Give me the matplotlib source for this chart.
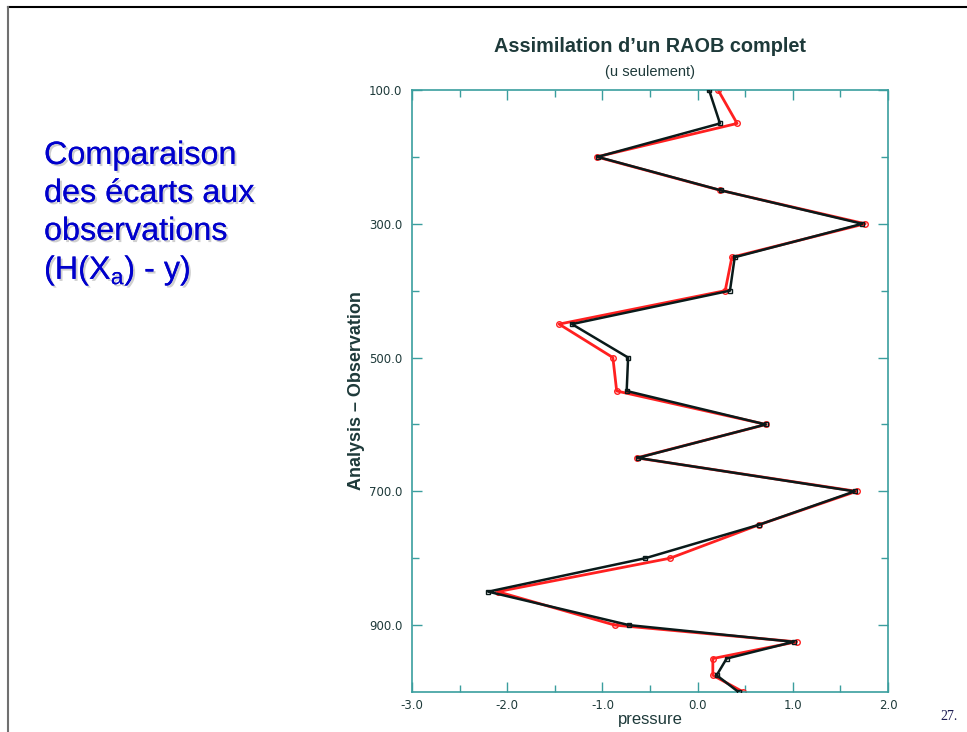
import matplotlib
matplotlib.use("Agg")
import matplotlib.pyplot as plt
from matplotlib.ticker import MultipleLocator, FormatStrFormatter
import matplotlib.patheffects as pe

levels = [100, 150, 200, 250, 300, 350, 400, 450, 500, 550, 600, 650, 700,
          750, 800, 850, 900, 925, 950, 975, 1000]
black_vals = [0.12, 0.235, -1.05, 0.245, 1.73, 0.39, 0.34, -1.32, -0.73, -0.745,
              0.715, -0.63, 1.65, 0.645, -0.55, -2.2, -0.72, 1.01, 0.305, 0.2, 0.43]
red_vals = [0.215, 0.415, -1.06, 0.24, 1.76, 0.36, 0.29, -1.455, -0.89, -0.85,
            0.72, -0.64, 1.67, 0.645, -0.29, -2.1, -0.87, 1.04, 0.16, 0.16, 0.48]

frame_c = "#3a9e9e"
text_c = "#1e3a3a"

fig = plt.figure(figsize=(9.67, 7.32), dpi=100)
fig.patch.set_facecolor("white")

# slide border lines
fig.add_artist(plt.Line2D([8/967, 1.0], [1 - 7/732, 1 - 7/732], color="black", lw=1.5,
                          transform=fig.transFigure))
fig.add_artist(plt.Line2D([8/967, 8/967], [0.0, 1 - 7/732], color="#707070", lw=1.5,
                          transform=fig.transFigure))

ax = fig.add_axes([412/967, 1 - 692/732, 476/967, 602/732])
ax.plot(red_vals, levels, color="#ff2020", lw=2.0, marker="o", ms=4,
        mfc="none", mec="#ff2020", mew=1.0, zorder=2)
ax.plot(black_vals, levels, color="#0a1a1a", lw=1.8, marker="s", ms=3.5,
        mfc="none", mec="#0a1a1a", mew=1.0, zorder=3)

ax.set_xlim(-3, 2)
ax.set_ylim(1000, 100)
ax.xaxis.set_major_locator(MultipleLocator(1.0))
ax.xaxis.set_minor_locator(MultipleLocator(0.5))
ax.set_yticks([100, 300, 500, 700, 900])
ax.set_yticks([200, 400, 600, 800], minor=True)
ax.xaxis.set_major_formatter(FormatStrFormatter("%.1f"))
ax.yaxis.set_major_formatter(FormatStrFormatter("%.1f"))
ax.tick_params(which="both", direction="in", top=True, right=True, color=frame_c,
               labelsize=8.5, labelcolor=text_c, width=1)
ax.tick_params(which="major", length=7)
ax.tick_params(which="minor", length=5)
ax.tick_params(axis="y", which="major", pad=7)
ax.tick_params(axis="x", which="major", pad=5)
for s in ax.spines.values():
    s.set_color(frame_c)
    s.set_linewidth(1.2)

ax.set_xlabel("pressure", fontsize=12, color=text_c, labelpad=0, family="Liberation Sans")
ax.set_ylabel("Analysis – Observation", fontsize=13, color=text_c, labelpad=3,
              family="Liberation Sans", fontweight="bold")

fig.text(650/967, 1 - 47/732, "Assimilation d\u2019un RAOB complet", ha="center", va="center",
         fontsize=14.3, fontweight="bold", color=text_c, family="Liberation Sans")
fig.text(650/967, 1 - 72/732, "(u seulement)", ha="center", va="center",
         fontsize=10.5, color=text_c, family="Liberation Sans")

shadow = [pe.withSimplePatchShadow(offset=(1.5, -1.5), shadow_rgbFace="#cfcfcf", alpha=1.0),
          pe.Normal()]
lines = ["Comparaison", "des écarts aux", "observations",
         r"(H(X$_{\mathregular{a}}$) - y)"]
ys = [156, 194, 232, 271]
for t, y in zip(lines, ys):
    fig.text(44/967, 1 - y/732, t, ha="left", va="center", fontsize=23.3,
             color="#0000cc", family="Liberation Sans", path_effects=shadow)

fig.text(940/967, 1 - 717/732, "27.", ha="left", va="center", fontsize=10,
         color="#1a1a50", family="Liberation Serif")

fig.savefig("out.png", dpi=100, facecolor="white")
